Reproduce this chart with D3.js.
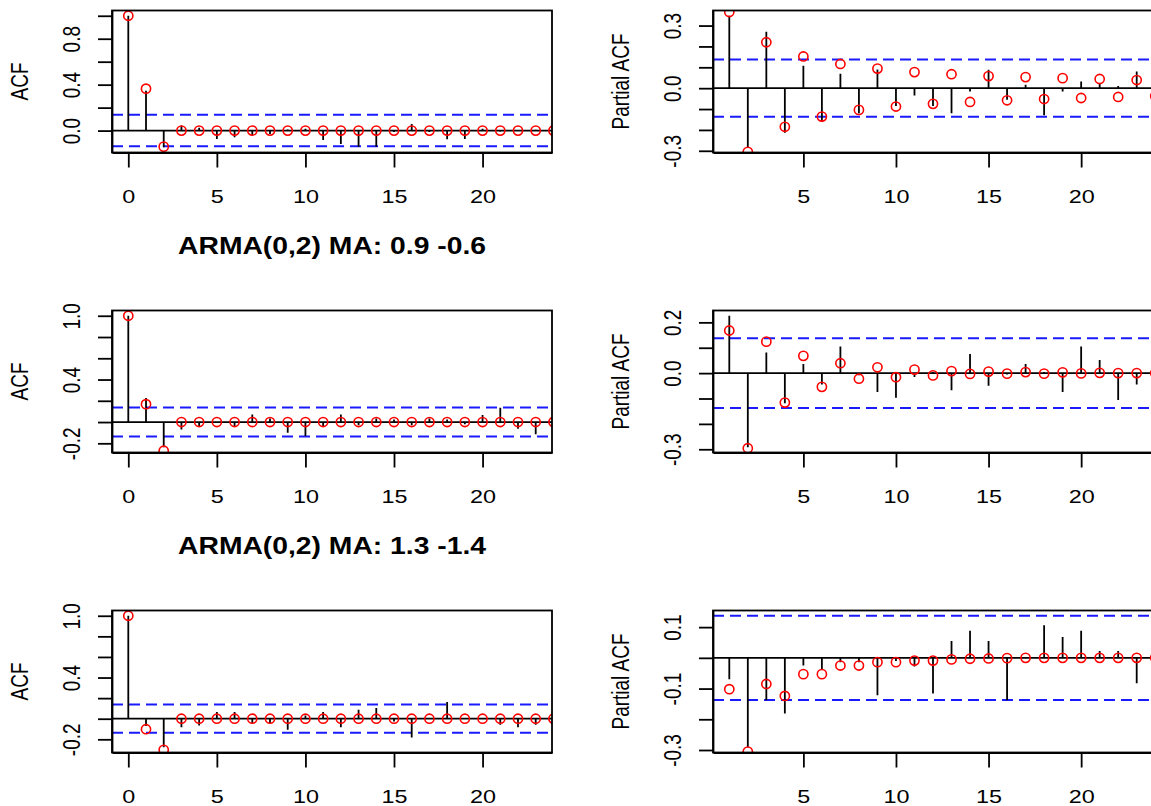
<!DOCTYPE html>
<html>
<head>
<meta charset="utf-8">
<script src="https://cdn.jsdelivr.net/npm/d3@7"></script>
<style>
  html, body { margin: 0; padding: 0; background: #fff; }
  svg { display: block; }
</style>
</head>
<body>
<svg id="chart" width="1151" height="806"></svg>
<script>
// ---- Sample and theoretical ACF / PACF of three simulated MA(2) series ----
// Sample ACF, lags 0..23
const acfSample1 = [1, 0.347, -0.145, 0.044, 0.025, -0.073, -0.058, -0.04, -0.03, 0.01, 0.015, -0.082,
                    -0.117, -0.14, -0.14, -0.012, 0.058, -0.012, -0.075, -0.073, 0.015, -0.008, 0.005, 0.008];
const acfSample2 = [1, 0.226, -0.237, -0.069, -0.037, -0.008, -0.037, 0.072, 0.034, -0.1, -0.131, -0.037,
                    0.072, -0.03, 0.034, 0.025, -0.03, 0.034, 0.025, -0.02, 0.066, 0.134, -0.062, -0.115];
const acfSample3 = [1, -0.07, -0.277, -0.084, -0.065, 0.065, 0.065, -0.042, -0.042, -0.107, 0.032, 0.065,
                    -0.084, 0.088, 0.104, -0.026, -0.182, 0.003, 0.162, 0.003, 0.002, -0.058, -0.084, -0.058];
// Theoretical ACF, lags 0..24
const acfTheory1 = [1, 0.365, -0.14, 0, 0, 0, 0, 0, 0, 0, 0, 0, 0, 0, 0, 0, 0, 0, 0, 0, 0, 0, 0, 0, 0];
const acfTheory2 = [1, 0.168, -0.27, 0, 0, 0, 0, 0, 0, 0, 0, 0, 0, 0, 0, 0, 0, 0, 0, 0, 0, 0, 0, 0, 0];
const acfTheory3 = [1, -0.102, -0.302, 0, 0, 0, 0, 0, 0, 0, 0, 0, 0, 0, 0, 0, 0, 0, 0, 0, 0, 0, 0, 0, 0];
// Sample PACF, lags 1..23
const pacfSample1 = [0.347, -0.283, 0.27, -0.213, 0.108, -0.16, 0.069, -0.12, 0.09, -0.085, -0.035, -0.085,
                     -0.12, -0.016, 0.088, -0.056, 0.016, -0.13, -0.016, 0.032, 0.024, 0.011, 0.08];
const pacfSample2 = [0.226, -0.292, 0.081, -0.119, 0.036, -0.045, 0.105, -0.008, -0.074, -0.097, -0.015, 0.004,
                     -0.067, 0.075, -0.05, -0.005, 0.036, 0.004, -0.074, 0.105, 0.052, -0.106, -0.045];
const pacfSample3 = [-0.07, -0.291, -0.138, -0.181, -0.025, -0.036, -0.014, -0.014, -0.122, -0.01, -0.028, -0.116,
                     0.055, 0.088, 0.055, -0.138, 0.003, 0.106, 0.068, 0.088, 0.022, 0.022, -0.083];
// Theoretical PACF, lags 1..24
const pacfTheory1 = [0.365, -0.305, 0.22, -0.185, 0.152, -0.136, 0.116, -0.104, 0.094, -0.088, 0.077, -0.075,
                     0.067, -0.066, 0.058, -0.058, 0.053, -0.052, 0.048, -0.047, 0.044, -0.042, 0.039, -0.038];
const pacfTheory2 = [0.168, -0.296, 0.124, -0.116, 0.068, -0.054, 0.039, -0.022, 0.023, -0.016, 0.014, -0.009,
                     0.008, -0.003, 0.006, -0.002, 0.004, -0.002, 0.003, -0.001, 0.001, 0, 0, 0];
const pacfTheory3 = [-0.102, -0.305, -0.085, -0.124, -0.053, -0.053, -0.025, -0.025, -0.014, -0.014, -0.009, -0.009,
                     -0.005, -0.003, -0.002, -0.001, 0, 0, 0, 0, 0, 0, 0, 0];

// 95% white-noise band
const ciBound = 0.137;

// Row titles (the first row's title sits above the page)
const rowTitles = [null, "ARMA(0,2) MA: 0.9 -0.6", "ARMA(0,2) MA: 1.3 -1.4"];

// Axis ticks and the subset that carries a label
const acfXTicks = [0, 5, 10, 15, 20];
const pacfXTicks = [5, 10, 15, 20];
const acfYTicks1 = [0, 0.2, 0.4, 0.6, 0.8, 1.0];
const acfYLabels1 = [0, 0.4, 0.8];
const acfYTicks23 = [-0.2, 0, 0.2, 0.4, 0.6, 0.8, 1.0];
const acfYLabels23 = [-0.2, 0.4, 1.0];
const pacfYTicks1 = [-0.3, -0.2, -0.1, 0, 0.1, 0.2, 0.3];
const pacfYLabels1 = [-0.3, 0, 0.3];
const pacfYTicks2 = [-0.3, -0.2, -0.1, 0, 0.1, 0.2];
const pacfYLabels2 = [-0.3, 0, 0.2];
const pacfYTicks3 = [-0.3, -0.2, -0.1, 0, 0.1];
const pacfYLabels3 = [-0.3, -0.1, 0.1];

// ---- Panels ----
const panels = [
  { row: 0, col: 0, ylab: "ACF", sample: acfSample1, theory: acfTheory1, lag0: 0, xt: acfXTicks, yt: acfYTicks1, yl: acfYLabels1 },
  { row: 0, col: 1, ylab: "Partial ACF", sample: pacfSample1, theory: pacfTheory1, lag0: 1, xt: pacfXTicks, yt: pacfYTicks1, yl: pacfYLabels1 },
  { row: 1, col: 0, ylab: "ACF", sample: acfSample2, theory: acfTheory2, lag0: 0, xt: acfXTicks, yt: acfYTicks23, yl: acfYLabels23 },
  { row: 1, col: 1, ylab: "Partial ACF", sample: pacfSample2, theory: pacfTheory2, lag0: 1, xt: pacfXTicks, yt: pacfYTicks2, yl: pacfYLabels2 },
  { row: 2, col: 0, ylab: "ACF", sample: acfSample3, theory: acfTheory3, lag0: 0, xt: acfXTicks, yt: acfYTicks23, yl: acfYLabels23 },
  { row: 2, col: 1, ylab: "Partial ACF", sample: pacfSample3, theory: pacfTheory3, lag0: 1, xt: pacfXTicks, yt: pacfYTicks3, yl: pacfYLabels3 }
];

// ---- Geometry ----
const colLeft = [112, 713];
const rowTop = [10.5, 310.5, 610.5];
const plotW = 440, plotH = 142;
const stretch = 1.23;           // glyphs are drawn wide
const fontFamily = "'Liberation Sans', Arial, Helvetica, sans-serif";
const lineW = 1.8;

const svg = d3.select("#chart");
const fmt = d => (Math.abs(d) < 1e-9 ? 0 : d).toFixed(1);

// pad a range by 4% on each side, like base graphics
function padded(ext) {
  const d = (ext[1] - ext[0]) * 0.04;
  return [ext[0] - d, ext[1] + d];
}

panels.forEach((p, i) => {
  const x0 = colLeft[p.col], y0 = rowTop[p.row];
  const x1 = x0 + plotW, y1 = y0 + plotH;

  const sampleData = p.sample.map((v, k) => ({ lag: k + p.lag0, v }));
  const theoryData = p.theory.map((v, k) => ({ lag: k + p.lag0, v }));

  const x = d3.scaleLinear()
    .domain(padded(d3.extent(sampleData, d => d.lag)))
    .range([x0, x1]);
  const y = d3.scaleLinear()
    .domain(padded(d3.extent(p.sample.concat([-ciBound, ciBound]))))
    .range([y1, y0]);

  const clipId = "clip" + i;
  svg.append("clipPath").attr("id", clipId)
    .append("rect").attr("x", x0).attr("y", y0).attr("width", plotW).attr("height", plotH);

  const g = svg.append("g").attr("clip-path", `url(#${clipId})`);

  // zero line
  g.append("line")
    .attr("x1", x0).attr("x2", x1)
    .attr("y1", y(0)).attr("y2", y(0))
    .attr("stroke", "#000").attr("stroke-width", lineW);

  // confidence band
  g.selectAll("line.ci").data([ciBound, -ciBound]).join("line")
    .attr("class", "ci")
    .attr("x1", x0).attr("x2", x1)
    .attr("y1", d => y(d)).attr("y2", d => y(d))
    .attr("stroke", "#1a1aff").attr("stroke-width", 2)
    .attr("stroke-dasharray", "11,6");

  // sample correlations as spikes
  g.selectAll("line.spike").data(sampleData).join("line")
    .attr("class", "spike")
    .attr("x1", d => x(d.lag)).attr("x2", d => x(d.lag))
    .attr("y1", y(0)).attr("y2", d => y(d.v))
    .attr("stroke", "#000").attr("stroke-width", lineW);

  // theoretical correlations as open circles
  g.selectAll("circle").data(theoryData).join("circle")
    .attr("cx", d => x(d.lag)).attr("cy", d => y(d.v))
    .attr("r", 4.6)
    .attr("fill", "none").attr("stroke", "#ff0000").attr("stroke-width", 1.6);

  // frame
  svg.append("rect")
    .attr("x", x0).attr("y", y0).attr("width", plotW).attr("height", plotH)
    .attr("fill", "none").attr("stroke", "#000").attr("stroke-width", lineW);

  // y axis
  const yAxis = svg.append("g")
    .attr("transform", `translate(${x0},0)`)
    .call(d3.axisLeft(y).tickValues(p.yt).tickSize(14).tickSizeOuter(0)
      .tickFormat(d => p.yl.some(l => Math.abs(l - d) < 1e-9) ? fmt(d) : ""));
  yAxis.select(".domain").attr("stroke-width", lineW);
  yAxis.selectAll(".tick line").attr("stroke-width", lineW);
  yAxis.selectAll(".tick text")
    .attr("x", null).attr("dy", null)
    .attr("text-anchor", "middle")
    .attr("font-family", fontFamily).attr("font-size", 19)
    .attr("transform", `translate(-32,0) scale(${stretch},1) rotate(-90)`);

  // x axis
  const xAxis = svg.append("g")
    .attr("transform", `translate(0,${y1})`)
    .call(d3.axisBottom(x).tickValues(p.xt).tickSize(15).tickSizeOuter(0).tickFormat(d3.format("d")));
  xAxis.select(".domain").attr("stroke-width", lineW);
  xAxis.selectAll(".tick line").attr("stroke-width", lineW);
  xAxis.selectAll(".tick text")
    .attr("y", null).attr("dy", null)
    .attr("text-anchor", "middle")
    .attr("font-family", fontFamily).attr("font-size", 19)
    .attr("transform", `translate(0,50) scale(${stretch},1)`);

  // y axis title
  svg.append("text")
    .attr("transform", `translate(${x0 - 84},${(y0 + y1) / 2}) scale(${stretch},1) rotate(-90)`)
    .attr("text-anchor", "middle")
    .attr("font-family", fontFamily).attr("font-size", 19)
    .attr("fill", "#000")
    .text(p.ylab);

  // row title over the ACF panel
  if (p.col === 0 && rowTitles[p.row]) {
    svg.append("text")
      .attr("transform", `translate(${(x0 + x1) / 2},${y0 - 57}) scale(${stretch},1)`)
      .attr("text-anchor", "middle")
      .attr("font-family", fontFamily).attr("font-size", 23).attr("font-weight", "bold")
      .attr("fill", "#000")
      .text(rowTitles[p.row]);
  }
});
</script>
</body>
</html>
